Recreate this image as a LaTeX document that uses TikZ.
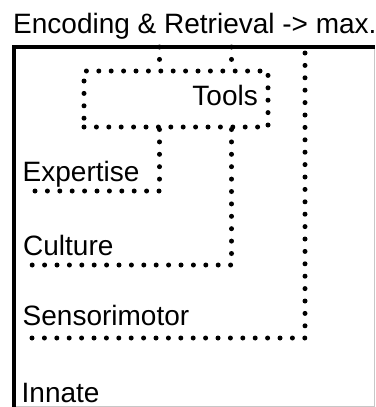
\documentclass[tikz,border=0pt]{standalone}
\usepackage{fontspec}
\setmainfont{Liberation Sans}
\begin{document}
\begin{tikzpicture}[x=1pt,y=-1pt,
  dots/.style={line width=5pt, line cap=round, dash pattern=on 0pt off 12.4pt},
  lbl/.style={anchor=base west, inner sep=0pt, font=\fontsize{28}{31}\selectfont},
  rlbl/.style={anchor=base east, inner sep=0pt, font=\fontsize{28}{31}\selectfont},
  frameline/.style={line width=3.5pt},
  edgeline/.style={line width=1pt, draw=black!22}]
\useasboundingbox (0,0) rectangle (375,407);

% title
\node[lbl] (title) at (13,33) {Encoding \& Retrieval -> max.};

% level labels
\node[lbl] (exp) at (22.5,181) {Expertise};
\node[lbl] (cul) at (23,255) {Culture};
\node[lbl] (sen) at (22.5,325) {Sensorimotor};
\node[lbl] (inn) at (21.5,402) {Innate};

% tools box and its label
\node[draw, dots, minimum width=184pt, minimum height=56pt, inner sep=0pt] (toolbox) at (176,99) {};
\node[rlbl] (tools) at (258,105) {Tools};

% anchor points of the dotted connectors
\coordinate (ta) at (159.5,47);
\coordinate (tb) at (231.5,47);
\coordinate (ecorner) at (159.5,191);
\coordinate (eend) at (26,191);
\coordinate (ccorner) at (231.5,265);
\coordinate (cend) at (26,265);
\coordinate (stop) at (305,53);
\coordinate (scorner) at (305,338);
\coordinate (send) at (26,338);

% dotted connectors
\draw[dots] (ta) -- (toolbox.north -| ta);
\draw[dots] (tb) -- (toolbox.north -| tb);
\draw[dots] (toolbox.south -| ecorner) -- (ecorner) -- (eend);
\draw[dots] (toolbox.south -| ccorner) -- (ccorner) -- (cend);
\draw[dots] (stop) -- (scorner) -- (send);

% frame
\draw[edgeline] (374.5,47) -- (374.5,406.5) -- (14,406.5);
\draw[frameline] (12,47) -- (375,47);
\draw[line width=4pt] (14,45.5) -- (14,407);
\end{tikzpicture}
\end{document}
